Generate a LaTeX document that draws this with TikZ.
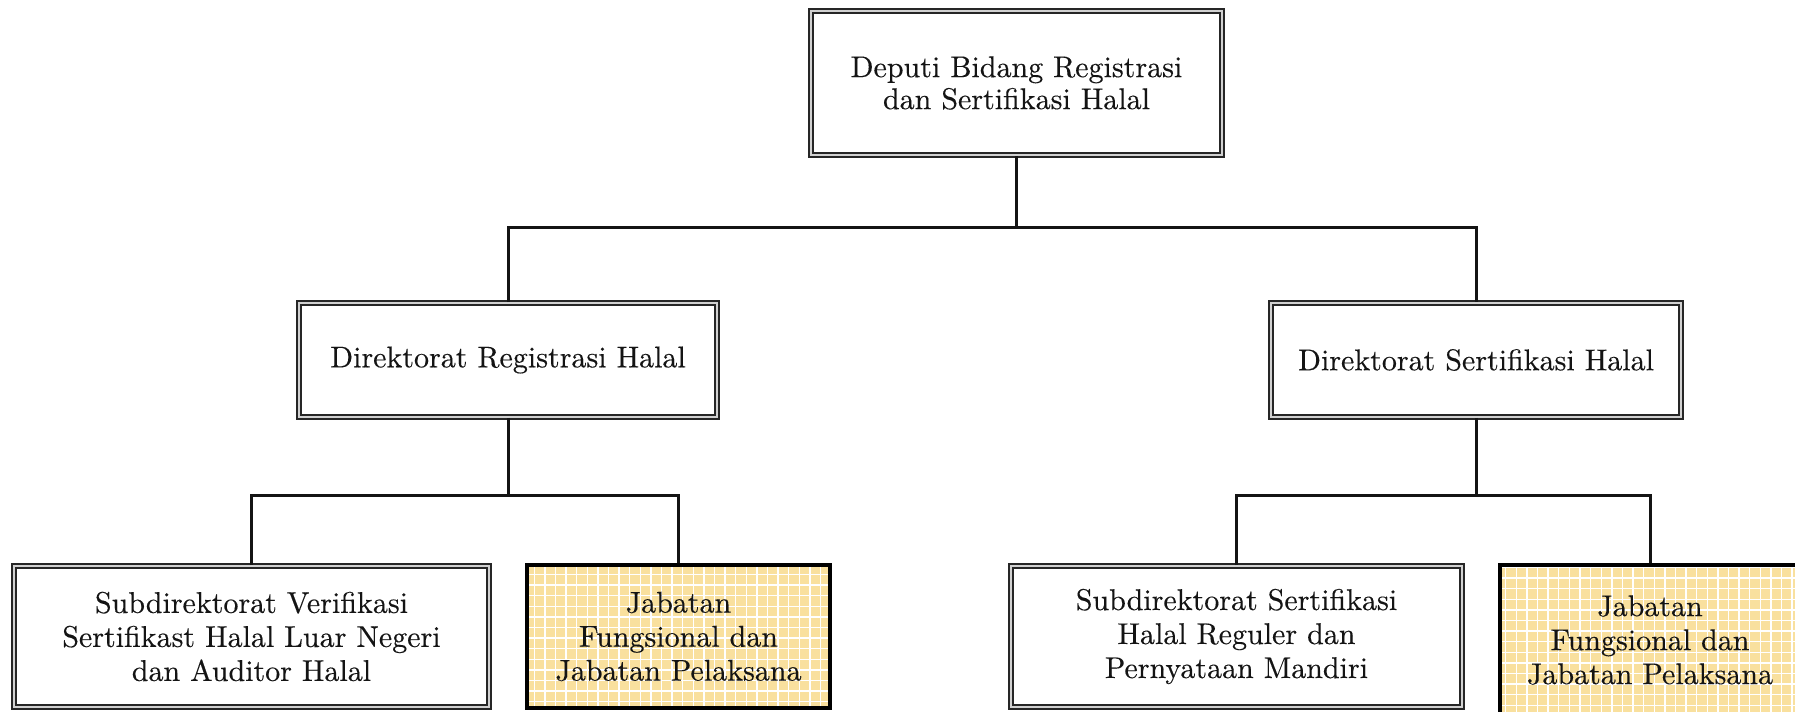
\documentclass[tikz,border=0pt]{standalone}
\usepackage{fontspec}
\setmainfont{lmroman10-regular.otf}[FakeBold=0.25]
\definecolor{jabyellow}{RGB}{249,224,158}
\definecolor{inkc}{RGB}{20,20,20}
\begin{document}
\begin{tikzpicture}[x=0.5pt,y=-0.5pt]
\tikzset{
  boxtext/.style={align=center, inner sep=0pt, text=inkc,
    font=\fontsize{15}{17}\selectfont},
  dbl/.style={boxtext, draw=black!85, double=black!18, line width=0.9pt,
    double distance=1.1pt, fill=white},
  jab/.style={boxtext, draw=black, line width=2pt, fill=jabyellow,
    path picture={\draw[white, line width=0.7pt]
      ([shift={(-30pt,-30pt)}]path picture bounding box.south west)
      grid[step=5.3pt]
      ([shift={(30pt,30pt)}]path picture bounding box.north east);}},
  conn/.style={line width=1.5pt, draw=inkc}
}
\useasboundingbox (0,0) rectangle (1795,712);
\clip (0,0) rectangle (1795,712);

\node[dbl, minimum width=205.5pt, minimum height=72pt,
      font=\fontsize{15}{16}\selectfont] (top) at (1016.5,83)
  {Deputi Bidang Registrasi\\dan Sertifikasi Halal};

\node[dbl, minimum width=209pt, minimum height=57pt] (dirL) at (508,360)
  {Direktorat Registrasi Halal};
\node[dbl, minimum width=205pt, minimum height=57pt] (dirR) at (1476,360)
  {Direktorat Sertifikasi Halal};

\node[dbl, minimum width=237.5pt, minimum height=70.5pt] (subL) at (251.5,636.5)
  {Subdirektorat Verifikasi\\Sertifikast Halal Luar Negeri\\dan Auditor Halal};
\node[jab, minimum width=151.5pt, minimum height=71.5pt] (jabL) at (678.5,636.5)
  {Jabatan\\Fungsional dan\\Jabatan Pelaksana};

\node[dbl, minimum width=225.5pt, minimum height=70.5pt] (subR) at (1236.5,636.5)
  {Subdirektorat Sertifikasi\\Halal Reguler dan\\Pernyataan Mandiri};
\node[jab, minimum width=150pt, minimum height=75pt] (jabR) at (1650,640)
  {Jabatan\\Fungsional dan\\Jabatan Pelaksana};

\coordinate (j1) at (1016.5,227);
\coordinate (j2L) at (508,495);
\coordinate (j2R) at (1476,495);

\draw[conn] (top.south) -- (j1);
\draw[conn] (dirL.north) |- (j1) -| (dirR.north);
\draw[conn] (dirL.south) -- (j2L);
\draw[conn] (subL.north) |- (j2L) -| (jabL.north);
\draw[conn] (dirR.south) -- (j2R);
\draw[conn] (subR.north) |- (j2R) -| (jabR.north);
\end{tikzpicture}
\end{document}
